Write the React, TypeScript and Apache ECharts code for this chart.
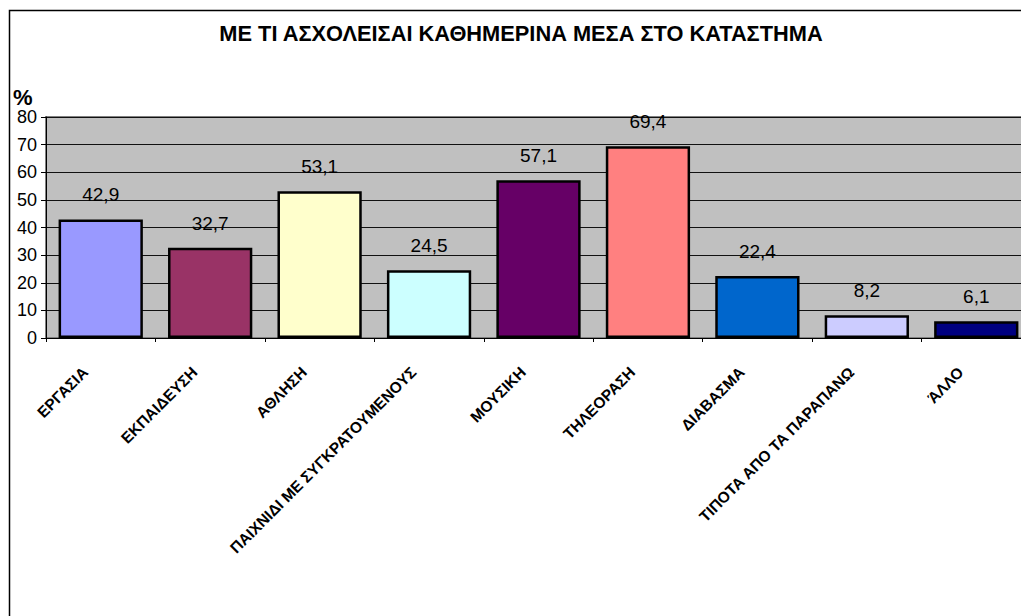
import React, { useEffect, useRef } from "react";
import * as echarts from "echarts";

const titleText = "ΜΕ ΤΙ ΑΣΧΟΛΕΙΣΑΙ ΚΑΘΗΜΕΡΙΝΑ ΜΕΣΑ ΣΤΟ ΚΑΤΑΣΤΗΜΑ";
const unitLabel = "%";
const categories = [
  "ΕΡΓΑΣΙΑ",
  "ΕΚΠΑΙΔΕΥΣΗ",
  "ΑΘΛΗΣΗ",
  "ΠΑΙΧΝΙΔΙ ΜΕ ΣΥΓΚΡΑΤΟΥΜΕΝΟΥΣ",
  "ΜΟΥΣΙΚΗ",
  "ΤΗΛΕΟΡΑΣΗ",
  "ΔΙΑΒΑΣΜΑ",
  "ΤΙΠΟΤΑ ΑΠΟ ΤΑ ΠΑΡΑΠΑΝΩ",
  "ΆΛΛΟ",
];
const values = [42.9, 32.7, 53.1, 24.5, 57.1, 69.4, 22.4, 8.2, 6.1];
const barColors = [
  "#9999FF",
  "#993366",
  "#FFFFCC",
  "#CCFFFF",
  "#660066",
  "#FF8080",
  "#0066CC",
  "#CCCCFF",
  "#000080",
];
const yMin = 0;
const yMax = 80;
const yStep = 10;

const FONT = "'Liberation Sans', Arial, sans-serif";

export default function App() {
  const ref = useRef<HTMLDivElement>(null);
  useEffect(() => {
    if (!ref.current) return;
    const chart = echarts.init(ref.current, undefined, { renderer: "svg" });
    chart.setOption({
      animation: false,
      backgroundColor: "#FFFFFF",
      textStyle: { fontFamily: FONT },
      grid: {
        left: 46,
        right: 29,
        top: 117,
        bottom: 302,
        show: true,
        backgroundColor: "#C0C0C0",
        borderColor: "#808080",
        borderWidth: 2,
      },
      graphic: [
        {
          type: "polyline",
          shape: { points: [[9.5, 660], [9.5, 10.5], [1100, 10.5]] },
          style: { stroke: "#000", lineWidth: 1.5, fill: null },
          silent: true,
        },
        {
          type: "text",
          x: 521,
          y: 33,
          style: {
            text: titleText,
            font: `bold 21.8px ${FONT}`,
            fill: "#000",
            align: "center",
            verticalAlign: "middle",
          },
        },
        {
          type: "text",
          x: 13,
          y: 97,
          style: {
            text: unitLabel,
            font: `bold 22px ${FONT}`,
            fill: "#000",
            align: "left",
            verticalAlign: "middle",
          },
        },
      ],
      xAxis: {
        type: "category",
        data: categories,
        axisLine: { show: true, lineStyle: { color: "#000", width: 1 } },
        axisTick: { show: true, length: 4, lineStyle: { color: "#000" } },
        axisLabel: {
          interval: 0,
          rotate: 45,
          margin: 16,
          fontSize: 15.5,
          fontWeight: "bold",
          color: "#000",
          fontFamily: FONT,
          formatter: (v: string) => `{a|${v}}{s| }`,
          rich: {
            a: {
              fontSize: 15.5,
              fontWeight: "bold",
              color: "#000",
              fontFamily: FONT,
            },
            s: {
              fontSize: 15.5,
              width: 22,
            },
          },
        },
      },
      yAxis: {
        type: "value",
        min: yMin,
        max: yMax,
        interval: yStep,
        axisLine: { show: true, lineStyle: { color: "#000", width: 1 } },
        axisTick: { show: true, length: 5, lineStyle: { color: "#000" } },
        axisLabel: { fontSize: 18, color: "#000", margin: 9, fontFamily: FONT },
        splitLine: { show: true, lineStyle: { color: "#111", width: 1 } },
      },
      series: [
        {
          type: "bar",
          data: values.map((v, i) => ({
            value: v,
            itemStyle: { color: barColors[i] },
          })),
          barCategoryGap: "23%",
          itemStyle: { borderColor: "#000", borderWidth: 2.5 },
          label: {
            show: true,
            position: "top",
            distance: 15,
            fontSize: 19,
            color: "#000",
            fontFamily: FONT,
            formatter: (p: any) => String(p.value).replace(".", ","),
          },
        },
      ],
    });
    return () => chart.dispose();
  }, []);
  return (
    <div
      style={{
        position: "fixed",
        left: 0,
        top: 0,
        width: 1021,
        height: 616,
        overflow: "hidden",
        background: "#fff",
      }}
    >
      <div ref={ref} style={{ width: 1060, height: 640 }} />
    </div>
  );
}
